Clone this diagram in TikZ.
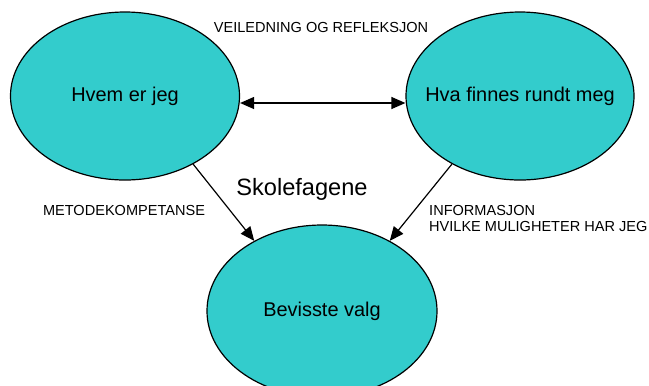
\documentclass[tikz,border=0pt]{standalone}
\usepackage{fontspec}
\setmainfont{Liberation Sans}
\usetikzlibrary{arrows.meta,shapes.geometric}
\definecolor{turkis}{HTML}{33CCCC}
\tikzset{
	boble/.style={ellipse,draw,line width=1.2bp,fill=turkis,inner sep=-25bp,minimum width=229bp,minimum height=168bp,font=\fontsize{20}{24}\selectfont},
	spiss/.tip={Triangle[length=14bp,width=12bp]},
	pil/.style={line width=1.2bp,-spiss},
	liten/.style={font=\fontsize{14.6}{16}\selectfont,align=left,inner sep=0}
}
\begin{document}
\begin{tikzpicture}[x=1bp,y=-1bp]
		\useasboundingbox (0,0) rectangle (649,385);
		\node[boble] (L) at (125,96) {Hvem er jeg};
		\node[boble,minimum width=228bp] (R) at (520,96) {Hva finnes rundt meg};
		\node[boble,minimum width=230bp,minimum height=172bp] (B) at (322,311) {Bevisste valg};
		\draw[pil,spiss-spiss] ([yshift=-7bp]L.east) -- ([yshift=-7bp]R.west);
		\draw[pil] (L.-45) -- (B.134);
		\draw[pil] (R.225) -- (B.46);
		\node[liten] (veil) at (321,27) {VEILEDNING OG REFLEKSJON};
		\node[liten] (meto) at (124,210) {METODEKOMPETANSE};
		\node[liten,anchor=north west] (info) at (429,205) {INFORMASJON\\HVILKE MULIGHETER HAR JEG};
		\node[font=\fontsize{23.7}{28}\selectfont,inner sep=0] (fag) at (302,189) {Skolefagene};
	\end{tikzpicture}
\end{document}
